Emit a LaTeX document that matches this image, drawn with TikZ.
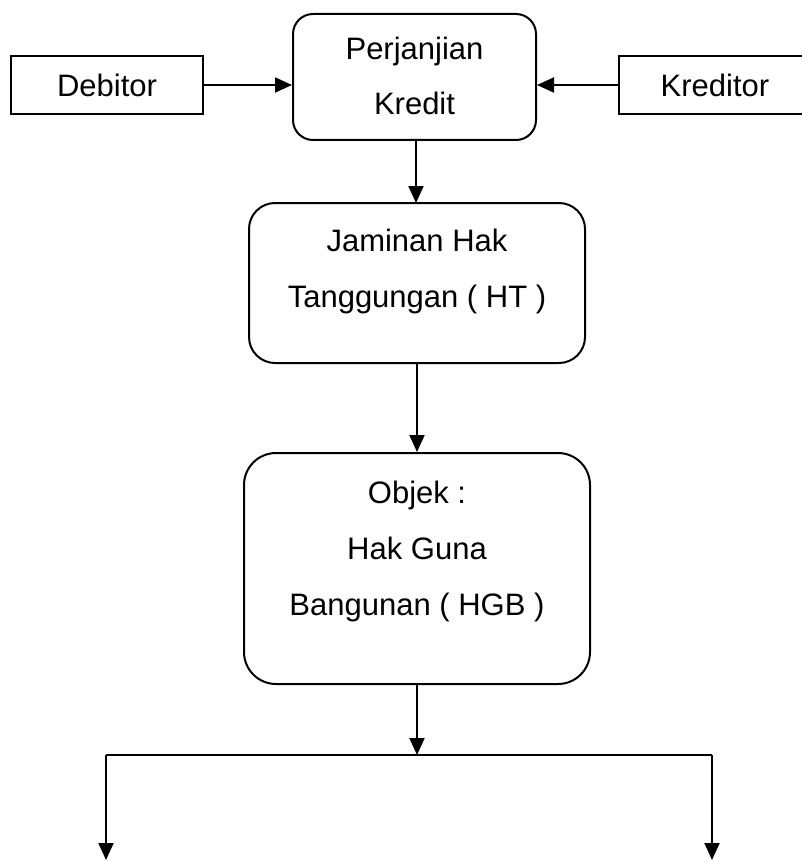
\documentclass[tikz,border=0pt]{standalone}
\usepackage{fontspec}
\setmainfont{Liberation Sans}
\usetikzlibrary{arrows.meta}
\begin{document}
\begin{tikzpicture}[x=1pt,y=-1pt,
  sqbox/.style={draw, line width=2pt, rectangle, inner sep=0pt},
  rbox/.style={draw, line width=2pt, rectangle, inner sep=0pt},
  txt/.style={anchor=base, inner sep=0pt, font=\fontsize{31}{37}\selectfont},
  conn/.style={line width=2pt},
  arr/.style={line width=2pt, -{Triangle[length=17pt, width=15pt]}}]
\useasboundingbox (0,0) rectangle (801,861);
% boxes
\node[sqbox, minimum width=192, minimum height=58] (deb) at (107,85) {};
\node[sqbox, minimum width=192, minimum height=58] (kre) at (715,85) {};
\node[rbox, rounded corners=20pt, minimum width=243, minimum height=126] (pk) at (414.5,77) {};
\node[rbox, rounded corners=26pt, minimum width=336, minimum height=160] (jam) at (417,283) {};
\node[rbox, rounded corners=32pt, minimum width=346, minimum height=231] (obj) at (417,568.5) {};
% texts
\node[txt] (tdeb) at (107,97) {Debitor};
\node[txt] (tkre) at (715,97) {Kreditor};
\node[txt] (tpk1) at (414.5,60) {Perjanjian};
\node[txt] (tpk2) at (414.5,115) {Kredit};
\node[txt] (tjam1) at (417,251) {Jaminan Hak};
\node[txt] (tjam2) at (417,307) {Tanggungan ( HT )};
\node[txt] (tobj1) at (417,503) {Objek :};
\node[txt] (tobj2) at (417,559) {Hak Guna};
\node[txt] (tobj3) at (417,615) {Bangunan ( HGB )};
% connectors
\draw[arr] (deb.east) -- (deb.east -| pk.west);
\draw[arr] (kre.west) -- (kre.west -| pk.east);
\draw[arr] (416,140) -- (416,203);
\coordinate (split) at (417,755);
\coordinate (left) at (106,860);
\coordinate (right) at (712,860);
\draw[arr] (obj.south) -- (split);
\draw[conn] (left |- split) -- (right |- split);
\draw[arr] (left |- split) -- (left);
\draw[arr] (right |- split) -- (right);
\draw[arr] (jam.south) -- (obj.north);
\end{tikzpicture}
\end{document}
